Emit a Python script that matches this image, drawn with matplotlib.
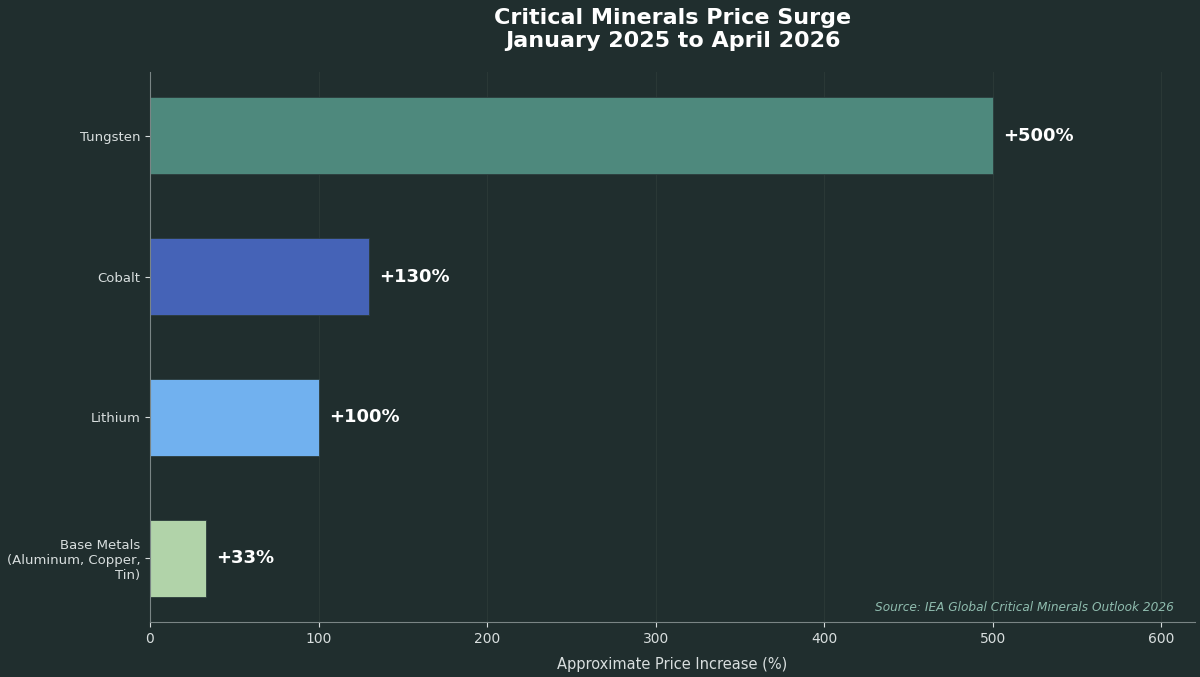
import matplotlib.pyplot as plt

plt.rcParams['font.family'] = ['DejaVu Sans']

# Data
minerals = ['Tungsten', 'Cobalt', 'Lithium', 'Base Metals\n(Aluminum, Copper,\nTin)']
increase = [500, 130, 100, 33]
bar_colors = ['#4e897d', '#4563b7', '#71b1ef', '#b1d3a9']
value_labels = ['+500%', '+130%', '+100%', '+33%']

BG = '#202e2e'
TXT = '#d8dede'

fig = plt.figure(figsize=(12, 6.77), dpi=100, facecolor=BG)
ax = fig.add_axes([0.125, 0.0812, 0.871, 0.8124], facecolor=BG)

ypos = list(range(len(minerals)))
ax.barh(ypos, increase, height=0.55, color=bar_colors, edgecolor='#2c3c3c', linewidth=0.6, zorder=2)
ax.invert_yaxis()

# value labels
for y, v, lab in zip(ypos, increase, value_labels):
    ax.text(v + 6, y, lab, va='center', ha='left', color='white',
            fontsize=13, fontweight='bold', zorder=4)

ax.set_yticks(ypos)
ax.set_yticklabels(minerals, fontsize=9.5)
ax.set_xlim(0, 620)
ax.set_xticks([0, 100, 200, 300, 400, 500, 600])

ax.tick_params(colors=TXT)
ax.tick_params(axis='x', labelsize=10)
for s in ['top', 'right']:
    ax.spines[s].set_visible(False)
for s in ['left', 'bottom']:
    ax.spines[s].set_color('#7a8585')
    ax.spines[s].set_zorder(5)
ax.xaxis.grid(True, color='#34433f', alpha=0.5, linewidth=0.8, zorder=0)
ax.set_axisbelow(True)

ax.set_xlabel('Approximate Price Increase (%)', color=TXT, fontsize=10.5, labelpad=8)
ax.set_title('Critical Minerals Price Surge\nJanuary 2025 to April 2026',
             color='white', fontsize=16, fontweight='bold', pad=18)

ax.text(0.98, 0.015, 'Source: IEA Global Critical Minerals Outlook 2026',
        transform=ax.transAxes, ha='right', va='bottom', color='#8fbcae',
        fontsize=8.7, style='italic')

fig.savefig('out.png', dpi=100, facecolor=BG)
